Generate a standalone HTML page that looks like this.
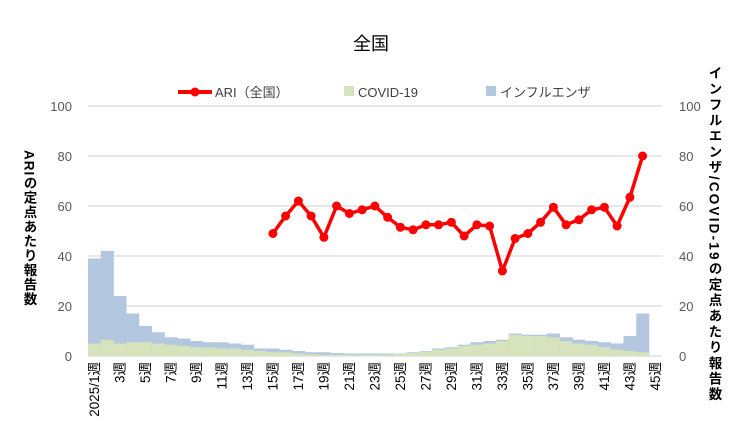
<!DOCTYPE html>
<html><head><meta charset="utf-8"><style>
html,body{margin:0;padding:0;background:#fff;}
body{position:relative;width:742px;height:447px;overflow:hidden;}
svg{display:block;font-family:"Liberation Sans","Noto Sans CJK JP",sans-serif;}
.vt{position:absolute;writing-mode:vertical-rl;text-orientation:mixed;font-family:"Liberation Sans","Noto Sans CJK JP",sans-serif;font-weight:bold;font-size:13.5px;color:#000;white-space:nowrap;line-height:1;}
</style></head><body>
<svg id="c" width="742" height="447" viewBox="0 0 742 447" xmlns="http://www.w3.org/2000/svg">
<rect width="742" height="447" fill="#fff"/>
<text x="371" y="50" font-size="18" text-anchor="middle" fill="#000">全国</text>
<g id="legend" font-size="13" fill="#404040">
<line x1="178" y1="92" x2="212" y2="92" stroke="#f00" stroke-width="4"/>
<circle cx="195" cy="92" r="4.5" fill="#f00"/>
<text x="215" y="97">ARI（全国）</text>
<rect x="344" y="86" width="10" height="10" fill="#d6e3bc"/>
<text x="358" y="97">COVID-19</text>
<rect x="486" y="86" width="10" height="10" fill="#b3c7e0"/>
<text x="500" y="97">インフルエンザ</text>
</g>
<g id="grid"></g>
<g id="bars"></g>
<g id="line"></g>
<g id="xl" font-size="13.5" fill="#000"></g>
</svg>
<div class="vt" style="left:22px;top:150px;letter-spacing:1px;">ARIの定点あたり報告数</div>
<div class="vt" style="left:707px;top:66px;letter-spacing:2.2px;">インフルエンザ/COVID-19の定点あたり報告数</div>
<script>
var NS="http://www.w3.org/2000/svg";
function el(p,t,a,txt){var e=document.createElementNS(NS,t);for(var k in a)e.setAttribute(k,a[k]);if(txt!==undefined)e.textContent=txt;document.getElementById(p).appendChild(e);return e;}
var X0=88,W=12.75,Y0=356,S=2.5;
for(var v=0;v<=100;v+=20){var y=Y0-v*S;
 el("grid","line",{x1:X0,x2:662,y1:y,y2:y,stroke:"#d9d9d9","stroke-width":1.3});
 el("grid","text",{x:72,y:y+5,"font-size":13,"text-anchor":"end",fill:"#595959"},v);
 el("grid","text",{x:679,y:y+5,"font-size":13,"text-anchor":"start",fill:"#595959"},v);}
var flu=[39,42,24,17,12,9.5,7.5,7,6,5.5,5.5,5,4.5,3,3,2.5,2,1.5,1.5,1.2,1,1,1,1,1,1.5,2,3,3.5,4.5,5.5,6,6.5,9,8.5,8.5,9,7.5,6.5,6,5.5,5,8,17];
var cov=[5,6.5,5,5.5,5.5,5,4.5,4,3.5,3.5,3,3,2.5,2,1.5,1.5,1,0.7,0.5,0.5,0.5,0.5,0.5,0.6,0.8,1.2,1.8,2.5,3,4,4.5,5,6,8.5,8,8,7.5,6,5,4.5,3.5,2.5,2,1.5];
for(var i=0;i<flu.length;i++){var x=X0+i*W;
 el("bars","rect",{x:x,y:Y0-flu[i]*S,width:W+0.3,height:flu[i]*S,fill:"#b3c7e0"});
 el("bars","rect",{x:x,y:Y0-cov[i]*S,width:W+0.3,height:cov[i]*S,fill:"#d6e3bc"});}
var ari=[49,56,62,56,47.5,60,57,58.5,60,55.5,51.5,50.5,52.5,52.5,53.5,48,52.5,52,34,47,49,53.5,59.5,52.5,54.5,58.5,59.5,52,63.5,80];
var pts=[];for(var j=0;j<ari.length;j++){pts.push((X0+(14+j+0.5)*W).toFixed(1)+","+(Y0-ari[j]*S).toFixed(1));}
el("line","polyline",{points:pts.join(" "),fill:"none",stroke:"#f00","stroke-width":3.5,"stroke-linejoin":"round"});
pts.forEach(function(p){var a=p.split(",");el("line","circle",{cx:a[0],cy:a[1],r:4.5,fill:"#f00"});});
for(var n=1;n<=45;n+=2){var cx=X0+(n-0.5)*W+4.5;var lab=(n==1?"2025/1週":n+"週");
 el("xl","text",{transform:"translate("+cx+",362) rotate(-90)","text-anchor":"end"},lab);}
</script>
</body></html>
